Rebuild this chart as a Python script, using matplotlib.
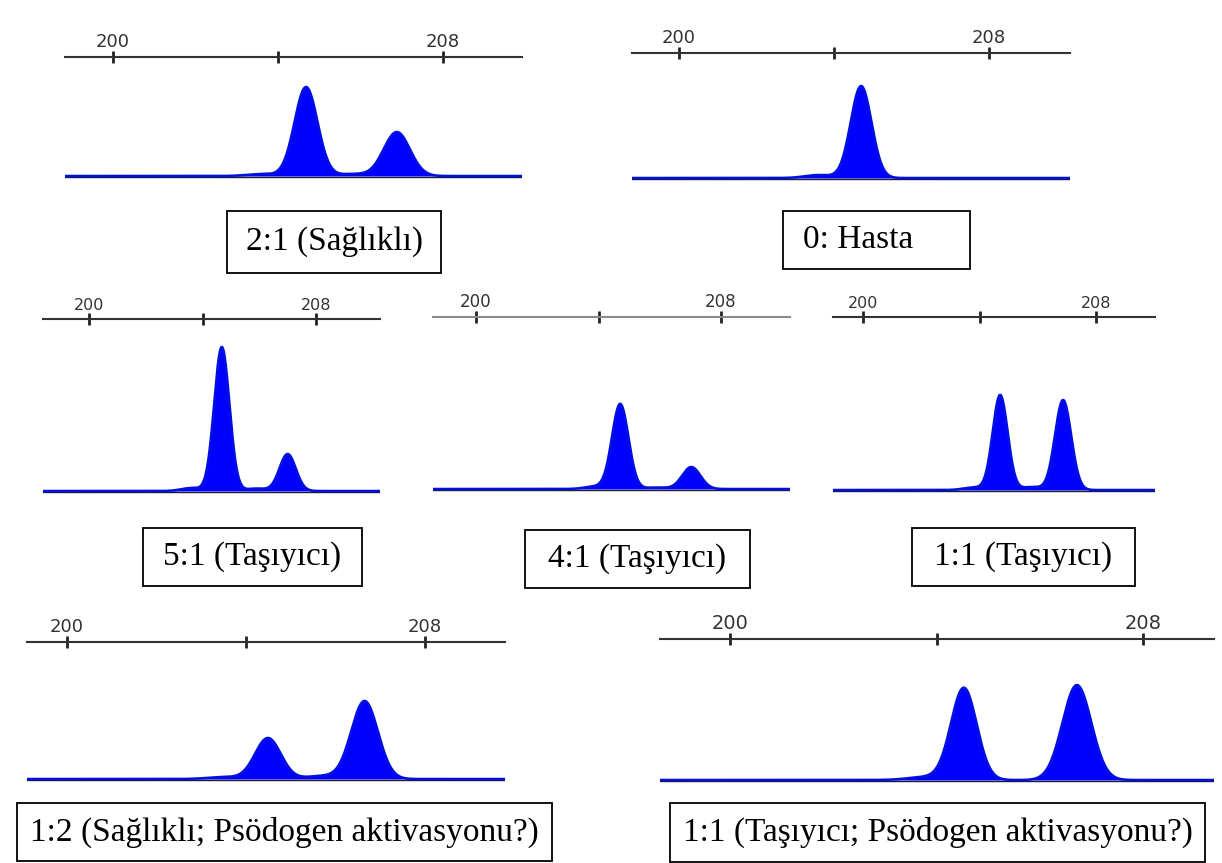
import numpy as np
import matplotlib
matplotlib.use('Agg')
import matplotlib.pyplot as plt
from matplotlib.patches import Rectangle

W, H = 1222, 863

# panel etiketleri
etiketler = [
  '2:1 (Sağlıklı)',
  '0: Hasta',
  '5:1 (Taşıyıcı)',
  '4:1 (Taşıyıcı)',
  '1:1 (Taşıyıcı)',
  '1:2 (Sağlıklı; Psödogen aktivasyonu?)',
  '1:1 (Taşıyıcı; Psödogen aktivasyonu?)',
]

# tepe konumlari (bp), yukseklikleri ve genislikleri
tepe_boy = [
  [204.68, 206.88],
  [204.70],
  [204.68, 207.00],
  [204.71, 207.03],
  [204.71, 206.87],
  [204.49, 206.65],
  [204.53, 206.72],
]
tepe_yukseklik = [
  [89, 44],
  [92],
  [144, 37],
  [85, 22],
  [95, 90],
  [41, 78],
  [92, 95],
]
tepe_genislik = [
  [0.28, 0.32],
  [0.27],
  [0.27, 0.29],
  [0.27, 0.30],
  [0.26, 0.28],
  [0.29, 0.30],
  [0.25, 0.28],
]

# tabandaki kucuk kabarmalar (bp, yukseklik)
kucuk_tepeler = [
  [(203.6, 2.0), (205.8, 2.0)],
  [(203.6, 3.0)],
  [(203.6, 3.0), (205.9, 2.5)],
  [(203.9, 2.5), (205.9, 1.5)],
  [(203.8, 2.5), (205.8, 3.0)],
  [(203.5, 2.0), (205.7, 3.0)],
  [(203.8, 3.0)],
]

tick_degerleri = [200, 204, 208]
tick_etiketleri = ['200', '', '208']

# yerlesim (piksel): x0, x1, cetvel y, taban y, 200'un x'i, 208'in x'i, yazi boyu, cetvel rengi
paneller = [
  (65, 522, 57, 176, 113, 443, 13, '#333333'),
  (632, 1070, 53, 178, 679, 989, 13, '#333333'),
  (43, 380, 319, 491, 89, 316, 11.5, '#333333'),
  (433, 790, 317, 489, 476, 721, 12, '#8a8a8a'),
  (833, 1155, 317, 490, 863, 1096, 11.5, '#333333'),
  (27, 505, 642, 779, 67, 425, 13, '#333333'),
  (660, 1214, 639, 780, 730, 1143, 14, '#333333'),
]

# kutular (piksel): x0, y0, x1, y1
kutular = [
  (227, 211, 441, 273),
  (783, 211, 970, 269),
  (143, 528, 362, 586),
  (525, 530, 750, 588),
  (912, 528, 1135, 586),
  (17, 803, 552, 861),
  (670, 803, 1205, 862),
]

fig = plt.figure(figsize=(W / 100, H / 100), dpi=100)
fig.patch.set_facecolor('white')


def grafik_ciz(i):
  x0, x1, ry, by, t200, t208, fs, renk = paneller[i]
  birim = (t208 - t200) / 8.0
  xmin = 200 + (x0 - t200) / birim
  xmax = 200 + (x1 - t200) / birim
  alt = 6
  ax = fig.add_axes([x0 / W, 1 - (by + alt) / H, (x1 - x0) / W, (by + alt - ry) / H])

  x = np.linspace(xmin, xmax, 3000)
  y = np.zeros_like(x)
  for m, h, s in zip(tepe_boy[i], tepe_yukseklik[i], tepe_genislik[i]):
    y += h * np.exp(-0.5 * ((x - m) / s) ** 2)
  for m, h in kucuk_tepeler[i]:
    y += h * np.exp(-0.5 * ((x - m) / 0.35) ** 2)

  ax.fill_between(x, 0, y, color='#0000ff', lw=0)
  ax.axhline(-1.2, color='#1b1b3a', lw=1.0)
  ax.plot(x, y, color='#0010e0', lw=1.8)

  ax.set_xlim(xmin, xmax)
  ax.set_ylim(-alt, by - ry)
  ax.set_yticks([])
  ax.set_xticks(tick_degerleri)
  ax.set_xticklabels(tick_etiketleri)
  ax.xaxis.set_ticks_position('top')
  ax.tick_params(axis='x', direction='inout', length=9, width=2, color='#222222',
                 pad=0, labelsize=fs, labelcolor='#333333')
  for k in ['left', 'right', 'bottom']:
    ax.spines[k].set_visible(False)
  ax.spines['top'].set_color(renk)
  ax.spines['top'].set_linewidth(1.5)
  ax.patch.set_alpha(0)
  return ax


def kutu_ciz(i):
  x0, y0, x1, y1 = kutular[i]
  fig.patches.append(Rectangle((x0 / W, 1 - y1 / H), (x1 - x0) / W, (y1 - y0) / H,
                               transform=fig.transFigure, facecolor='white',
                               edgecolor='black', lw=1.3))
  yc = 1 - (y0 + y1) / 2 / H
  if i == 1:
    fig.text(803 / W, yc, etiketler[i], ha='left', va='center',
             family='Liberation Serif', fontsize=24)
  else:
    fig.text((x0 + x1) / 2 / W, yc, etiketler[i], ha='center', va='center',
             family='Liberation Serif', fontsize=24)


for i in range(len(paneller)):
  grafik_ciz(i)
  kutu_ciz(i)

plt.savefig('out.png', dpi=100)
